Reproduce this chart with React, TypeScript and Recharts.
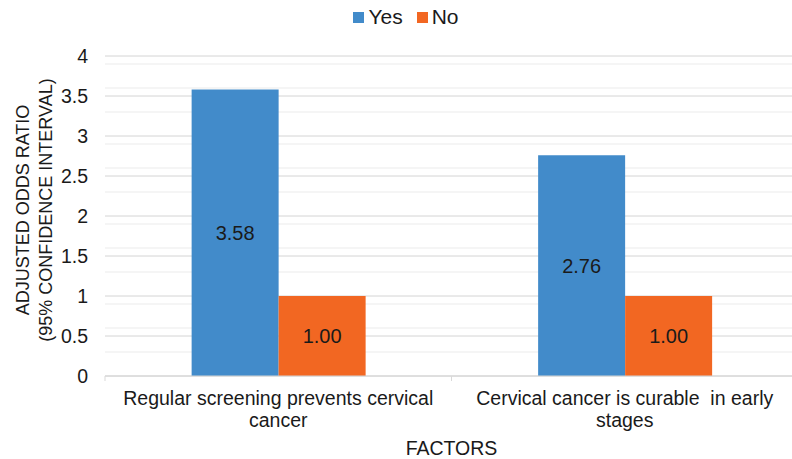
import React from 'react';
import { BarChart, Bar, XAxis, YAxis, CartesianGrid, Legend, LabelList } from 'recharts';

const categories = ['Regular screening prevents cervical\ncancer', 'Cervical cancer is curable  in early\nstages'];
const yesValues = [3.58, 2.76];
const noValues = [1.0, 1.0];
const majorTicks = [0, 0.5, 1, 1.5, 2, 2.5, 3, 3.5, 4];
const minorTicks = [
    0.1, 0.2, 0.3, 0.4, 0.6, 0.7, 0.8, 0.9, 1.1, 1.2, 1.3, 1.4, 1.6, 1.7, 1.8, 1.9,
    2.1, 2.2, 2.3, 2.4, 2.6, 2.7, 2.8, 2.9, 3.1, 3.2, 3.3, 3.4, 3.6, 3.7, 3.8, 3.9,
];

const data = categories.map((name, i) => ({ name, yes: yesValues[i], no: noValues[i] }));

const W = 800;
const H = 459;
const margin = { top: 26, right: 2, left: 55, bottom: 23 };
const yAxisWidth = 50;
const FONT = '"Liberation Sans", Arial, sans-serif';
const BLUE = '#428BCA';
const ORANGE = '#F26722';

const bandWidth = (W - margin.left - yAxisWidth - margin.right) / categories.length;

const CategoryTick = ({ x, y, payload, index }: any) => {
    const lines = String(payload.value).split('\n');
    const axisY = y - 8;
    return (
        <g>
            <line x1={x - bandWidth / 2} x2={x - bandWidth / 2} y1={axisY} y2={axisY + 5} stroke="#d9d9d9" />
            {index === categories.length - 1 && (
                <line x1={x + bandWidth / 2} x2={x + bandWidth / 2} y1={axisY} y2={axisY + 5} stroke="#d9d9d9" />
            )}
            <text x={x} y={y} textAnchor="middle" fontFamily={FONT} fontSize={19.5} fill="#1a1a1a" style={{ whiteSpace: 'pre' }}>
                {lines.map((l, i) => (
                    <tspan key={i} x={x} dy={i === 0 ? 21 : 22}>{l}</tspan>
                ))}
            </text>
        </g>
    );
};

const YTitle = ({ viewBox }: any) => {
    const cy = viewBox.y + viewBox.height / 2 - 6;
    return (
        <g fontFamily={FONT} fontSize={18} fill="#1a1a1a">
            <text x={29} y={cy} transform={`rotate(-90 29 ${cy})`} textAnchor="middle">ADJUSTED ODDS RATIO</text>
            <text x={52} y={cy} transform={`rotate(-90 52 ${cy})`} textAnchor="middle">(95% CONFIDENCE INTERVAL)</text>
        </g>
    );
};

const XTitle = ({ viewBox }: any) => (
    <text x={viewBox.x + viewBox.width / 2} y={455} textAnchor="middle" fontFamily={FONT} fontSize={19.5} fill="#1a1a1a">
        FACTORS
    </text>
);

const LegendContent = () => (
    <div style={{ display: 'flex', justifyContent: 'center', alignItems: 'center', height: 30, gap: 14, fontFamily: FONT, fontSize: 21, color: '#1a1a1a' }}>
        {[['Yes', BLUE], ['No', ORANGE]].map(([label, color]) => (
            <div key={label} style={{ display: 'flex', alignItems: 'center', gap: 4 }}>
                <div style={{ width: 11, height: 11, background: color }} />
                <span>{label}</span>
            </div>
        ))}
    </div>
);

const fmt = (v: any) => Number(v).toFixed(2);
const labelStyle = { fontFamily: FONT, fontSize: 20, fill: '#1a1a1a' };

export default function App() {
    return (
        <div style={{ position: 'absolute', left: 0, top: 0, width: 792, height: 459, overflow: 'hidden', background: '#fff' }}>
            <BarChart width={W} height={H} data={data} margin={margin} barCategoryGap="25%" barGap={0}>
                <CartesianGrid vertical={false} horizontalValues={minorTicks} stroke="#ebebeb" />
                <CartesianGrid vertical={false} stroke="#d4d4d4" />
                <XAxis
                    dataKey="name"
                    axisLine={{ stroke: '#d4d4d4' }}
                    tickLine={false}
                    tick={<CategoryTick />}
                    interval={0}
                    height={60}
                    label={<XTitle />}
                />
                <YAxis
                    domain={[0, 4]}
                    ticks={majorTicks}
                    width={yAxisWidth}
                    axisLine={false}
                    tickLine={false}
                    tickMargin={11}
                    tick={{ fontFamily: FONT, fontSize: 19.5, fill: '#1a1a1a' }}
                    label={<YTitle />}
                />
                <Legend verticalAlign="top" content={<LegendContent />} wrapperStyle={{ top: 2, left: 0, width: 812 }} />
                <Bar dataKey="yes" name="Yes" fill={BLUE} isAnimationActive={false}>
                    <LabelList dataKey="yes" position="center" formatter={fmt} style={labelStyle} />
                </Bar>
                <Bar dataKey="no" name="No" fill={ORANGE} isAnimationActive={false}>
                    <LabelList dataKey="no" position="center" formatter={fmt} style={labelStyle} />
                </Bar>
            </BarChart>
        </div>
    );
}
